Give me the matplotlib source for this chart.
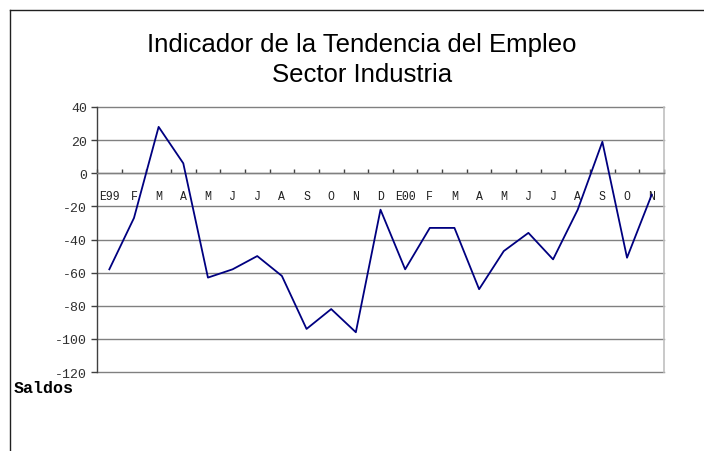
import matplotlib
matplotlib.use("Agg")
import matplotlib.pyplot as plt
from matplotlib.lines import Line2D

categories = ["E99", "F", "M", "A", "M", "J", "J", "A", "S", "O", "N", "D",
              "E00", "F", "M", "A", "M", "J", "J", "A", "S", "O", "N"]
values = [-58, -27, 28, 6, -63, -58, -50, -62, -94, -82, -96, -22,
          -58, -33, -33, -70, -47, -36, -52, -22, 19, -51, -13]
yticks = [-120, -100, -80, -60, -40, -20, 0, 20, 40]

W, H = 704, 452
fig = plt.figure(figsize=(W / 100, H / 100), dpi=100)
fig.patch.set_facecolor("white")

# outer frame (cropped chart area)
fig.add_artist(Line2D([10 / W, 10 / W], [0, 1 - 11 / H], transform=fig.transFigure,
                      color="#202020", lw=1.0))
fig.add_artist(Line2D([10 / W, 1], [1 - 11 / H, 1 - 11 / H], transform=fig.transFigure,
                      color="#202020", lw=1.0))

left, right = 97 / W, 664 / W
top, bottom = 1 - 108 / H, 1 - 373 / H
ax = fig.add_axes([left, bottom, right - left, top - bottom])

n = len(categories)
xs = [i + 0.5 for i in range(n)]
ax.set_xlim(0, n)
ax.set_ylim(-120, 40)

for yv in yticks:
    ax.axhline(yv, color="#808080", lw=1.0, zorder=1, clip_on=False)

ax.plot(xs, values, color="#000080", lw=1.3, zorder=3)

ax.spines["top"].set_visible(False)
ax.spines["right"].set_color("#c0c0c0")
ax.spines["right"].set_linewidth(1.2)
ax.spines["left"].set_color("#404040")
ax.spines["left"].set_linewidth(1.0)
ax.spines["bottom"].set_position(("data", 0))
ax.spines["bottom"].set_color("#808080")
ax.spines["bottom"].set_linewidth(1.0)

ax.set_yticks(yticks)
ax.set_yticklabels([str(v) for v in yticks], family="Liberation Mono", fontsize=9.5,
                   color="#303030")
ax.tick_params(axis="y", direction="out", length=4, width=1, color="#404040", pad=3)

ax.set_xticks(list(range(n + 1)))
ax.set_xticklabels([])
ax.tick_params(axis="x", which="major", direction="in", length=3, width=1, color="#404040")
ax.set_xticks(xs, minor=True)
ax.set_xticklabels(categories, minor=True, family="Liberation Mono", fontsize=8.3,
                   color="#202020")
ax.tick_params(axis="x", which="minor", length=0, pad=12)

fig.text(362 / W, 1 - 45 / H, "Indicador de la Tendencia del Empleo", ha="center",
         va="center", family="Liberation Sans", fontsize=18.5, color="black")
fig.text(362 / W, 1 - 75 / H, "Sector Industria", ha="center",
         va="center", family="Liberation Sans", fontsize=18.5, color="black")

fig.text(14 / W, 1 - 389 / H, "Saldos", ha="left", va="center",
         family="Liberation Mono", fontweight="bold", fontsize=12, color="black")

fig.savefig("out.png", dpi=100)
